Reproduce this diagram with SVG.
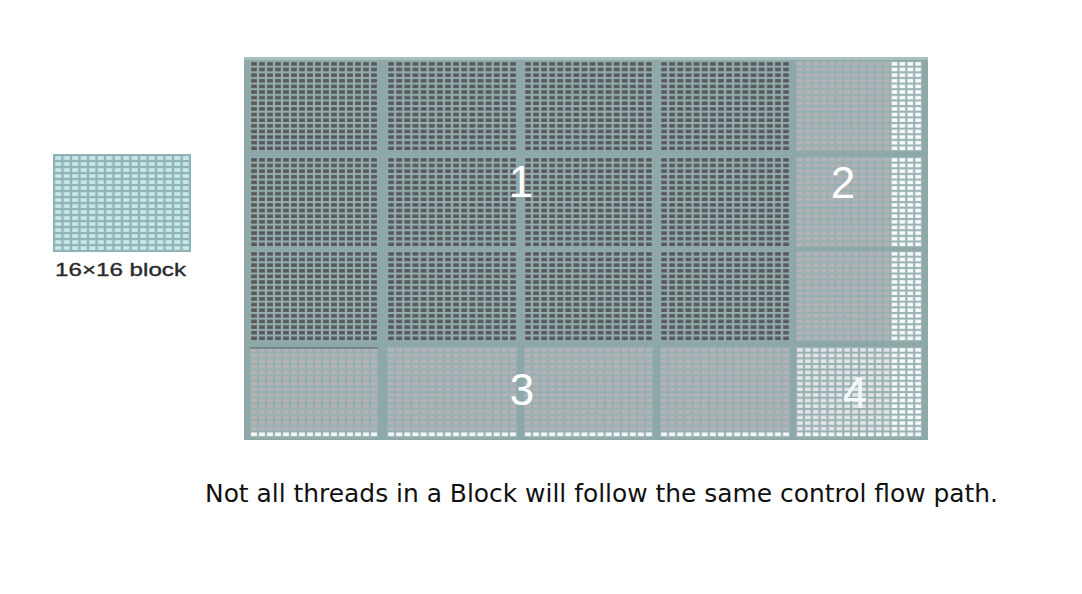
<svg xmlns="http://www.w3.org/2000/svg" width="1082" height="594" viewBox="0 0 1082 594">
<style>
.num{font-family:"Liberation Sans",Arial,sans-serif;font-size:44px;fill:#ffffff;text-anchor:middle}
.lbl{font-family:"Liberation Sans",Arial,sans-serif;font-size:19px;fill:#2a2a2a;stroke:#2a2a2a;stroke-width:0.35}
.cap{font-family:"DejaVu Sans Condensed","DejaVu Sans",sans-serif;font-size:25px;fill:#111111}
</style>
<defs>
<pattern id="pDark" patternUnits="userSpaceOnUse" width="1" height="1"><rect width="1" height="1" fill="#93adad"/><rect x="0.14" y="0.2" width="0.72" height="0.62" fill="#58575d"/></pattern>
<pattern id="pGray" patternUnits="userSpaceOnUse" width="1" height="1"><rect width="1" height="1" fill="#96b0b0"/><rect x="0.14" y="0.2" width="0.72" height="0.62" fill="#b6b1b9"/></pattern>
<pattern id="pWhite" patternUnits="userSpaceOnUse" width="1" height="1"><rect width="1" height="1" fill="#9ab4b4"/><rect x="0.14" y="0.2" width="0.72" height="0.62" fill="#fbfbfd"/></pattern>
<pattern id="pLight" patternUnits="userSpaceOnUse" width="1" height="1"><rect width="1" height="1" fill="#98b2b2"/><rect x="0.14" y="0.2" width="0.72" height="0.62" fill="#e6e4ea"/></pattern>
<pattern id="pCyan" patternUnits="userSpaceOnUse" width="1" height="1"><rect width="1" height="1" fill="#8fb4b7"/><rect x="0.14" y="0.2" width="0.72" height="0.62" fill="#c9e6e9"/></pattern>
</defs>
<rect width="1082" height="594" fill="#ffffff"/>

<g id="small-block">
<rect x="53" y="154" width="138" height="98" fill="#8fb4b7"/>
<g transform="translate(54,155) scale(8.5,6)"><rect width="16" height="16" fill="url(#pCyan)"/></g>
<text class="lbl" x="55" y="276" textLength="131" lengthAdjust="spacingAndGlyphs">16×16 block</text>
</g>

<g id="grid-frame"><rect x="244" y="57" width="684" height="383" fill="#8ea8a9"/><rect x="244" y="57" width="684" height="3" fill="#a9bfbf"/></g>

<g id="region-1">
<g transform="translate(250,61) scale(8,5.63)"><rect width="16" height="16" fill="url(#pDark)"/></g>
<g transform="translate(387,61) scale(8.13,5.63)"><rect width="16" height="16" fill="url(#pDark)"/></g>
<g transform="translate(524,61) scale(8.06,5.63)"><rect width="16" height="16" fill="url(#pDark)"/></g>
<g transform="translate(660,61) scale(8.13,5.63)"><rect width="16" height="16" fill="url(#pDark)"/></g>
<g transform="translate(250,157) scale(8,5.63)"><rect width="16" height="16" fill="url(#pDark)"/></g>
<g transform="translate(387,157) scale(8.13,5.63)"><rect width="16" height="16" fill="url(#pDark)"/></g>
<g transform="translate(524,157) scale(8.06,5.63)"><rect width="16" height="16" fill="url(#pDark)"/></g>
<g transform="translate(660,157) scale(8.13,5.63)"><rect width="16" height="16" fill="url(#pDark)"/></g>
<g transform="translate(250,251) scale(8,5.63)"><rect width="16" height="16" fill="url(#pDark)"/></g>
<g transform="translate(387,251) scale(8.13,5.63)"><rect width="16" height="16" fill="url(#pDark)"/></g>
<g transform="translate(524,251) scale(8.06,5.63)"><rect width="16" height="16" fill="url(#pDark)"/></g>
<g transform="translate(660,251) scale(8.13,5.63)"><rect width="16" height="16" fill="url(#pDark)"/></g>
<text class="num" x="521" y="197">1</text>
</g>

<g id="region-2">
<g transform="translate(796,61) scale(7.88,5.63)"><rect width="12" height="16" fill="url(#pGray)"/><rect x="12" width="4" height="16" fill="url(#pWhite)"/></g>
<g transform="translate(796,157) scale(7.88,5.63)"><rect width="12" height="16" fill="url(#pGray)"/><rect x="12" width="4" height="16" fill="url(#pWhite)"/></g>
<g transform="translate(796,251) scale(7.88,5.63)"><rect width="12" height="16" fill="url(#pGray)"/><rect x="12" width="4" height="16" fill="url(#pWhite)"/></g>
<text class="num" x="843" y="198">2</text>
</g>

<g id="region-3">
<g transform="translate(250,347) scale(8,5.63)"><rect width="16" height="15" fill="url(#pGray)"/><rect y="15" width="16" height="1" fill="url(#pWhite)"/></g>
<g transform="translate(387,347) scale(8.13,5.63)"><rect width="16" height="15" fill="url(#pGray)"/><rect y="15" width="16" height="1" fill="url(#pWhite)"/></g>
<g transform="translate(524,347) scale(8.06,5.63)"><rect width="16" height="15" fill="url(#pGray)"/><rect y="15" width="16" height="1" fill="url(#pWhite)"/></g>
<g transform="translate(660,347) scale(8.13,5.63)"><rect width="16" height="15" fill="url(#pGray)"/><rect y="15" width="16" height="1" fill="url(#pWhite)"/></g>
<rect x="250" y="347.5" width="128" height="1" fill="#4f5a5a"/>
<text class="num" x="522" y="405">3</text>
</g>

<g id="region-4">
<g transform="translate(796,347) scale(7.88,5.63)"><rect width="12" height="15" fill="url(#pLight)"/><rect x="12" width="4" height="16" fill="url(#pWhite)"/><rect y="15" width="12" height="1" fill="url(#pWhite)"/></g>
<text class="num" x="855" y="408" fill-opacity="0.9">4</text>
</g>

<g id="connectors"></g>

<g id="caption"><text class="cap" x="205" y="502" textLength="793" lengthAdjust="spacingAndGlyphs">Not all threads in a Block will follow the same control flow path.</text></g>
</svg>
